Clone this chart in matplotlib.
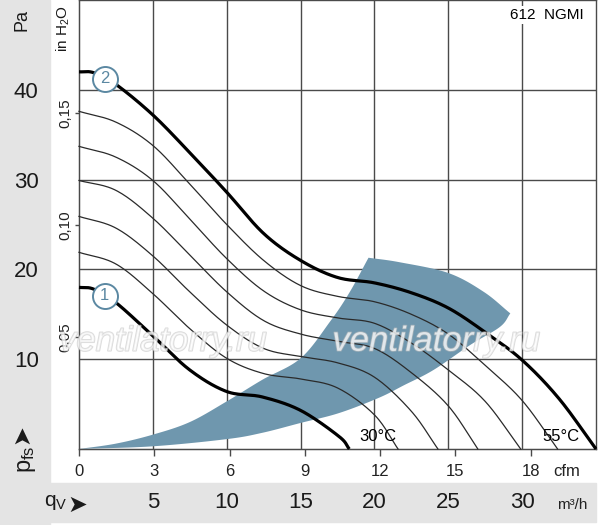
import numpy as np
import matplotlib
matplotlib.use("Agg")
import matplotlib.pyplot as plt
from matplotlib.patches import Rectangle
from matplotlib import patheffects

PA_PER_INH2O = 249.089
M3H_PER_CFM = 1.699

# fan curves: flow in m3/h, static pressure in Pa
curve2_q = [0, 1, 2.5, 5, 7.5, 10, 12.5, 15, 17.5, 20, 22.5, 25, 27.5, 30, 32.5, 35]
curve2_p = [42.0, 41.9, 40.6, 37.2, 33.0, 28.6, 24.0, 21.0, 19.1, 18.5, 17.4, 15.7, 13.0, 9.9, 5.6, 0]

thin_a_q = [0, 2.5, 5, 7.5, 10, 12.5, 15, 17.5, 20, 22.5, 25, 27.5, 30, 32.4]
thin_a_p = [37.6, 36.4, 33.8, 29.5, 25.0, 21.0, 18.2, 17.0, 16.4, 15.0, 12.8, 9.3, 5.4, 0]

thin_b_q = [0, 2.5, 5, 7.5, 10, 12.5, 15, 17.5, 20, 22.5, 25, 27.5, 29.9]
thin_b_p = [33.7, 32.5, 29.9, 25.6, 21.2, 17.6, 15.5, 14.6, 14.0, 11.8, 8.8, 5.3, 0]

thin_c_q = [0, 2.5, 5, 7.5, 10, 12.5, 15, 17.5, 20, 22.5, 25, 27.0]
thin_c_p = [29.9, 28.8, 25.7, 21.6, 17.5, 14.3, 12.8, 12.0, 11.2, 8.5, 4.8, 0]

thin_d_q = [0, 2.5, 5, 7.5, 10, 12.5, 15, 17.5, 20, 22.5, 24.3]
thin_d_p = [25.9, 24.6, 21.5, 17.5, 13.8, 11.2, 10.3, 9.6, 8.0, 4.2, 0]

thin_e_q = [0, 2.5, 5, 7.5, 10, 12.5, 15, 17.5, 20, 21.6]
thin_e_p = [21.9, 20.6, 17.3, 13.4, 10.1, 8.4, 7.8, 6.8, 3.8, 0]

curve1_q = [0, 1, 2.5, 5, 7.5, 10, 12.4, 15, 17.6, 18.3]
curve1_p = [18.0, 17.8, 16.3, 12.6, 8.8, 6.4, 5.8, 4.3, 1.4, 0]

# operating range (shaded area)
range_low_q = [0, 5, 10, 12.4, 15, 17.6, 20.3, 22, 24, 26.5, 28.5, 29.2]
range_low_p = [0, 0.3, 1.1, 1.8, 2.9, 4.0, 5.7, 7.1, 8.8, 11.6, 13.6, 15.1]
range_top_q = [29.2, 27.4, 25, 21.7, 19.6]
range_top_p = [15.1, 17.5, 19.6, 20.8, 21.3]
range_up_q = [19.6, 18.3, 17, 15, 12.4, 10, 7.5, 5, 2.5, 0]
range_up_p = [21.3, 17.4, 14.2, 10.1, 7.7, 5.3, 3.0, 1.6, 0.6, 0]

m3h_ticks = [5, 10, 15, 20, 25, 30]
pa_ticks = [10, 20, 30, 40]
cfm_ticks = [0, 3, 6, 9, 12, 15, 18]
inh2o_ticks = [0.05, 0.10, 0.15]
inh2o_labels = ["0,05", "0,10", "0,15"]

GRAY = "#e4e4e4"
BLUE = "#6f97ae"
GRID = "#4a4a4a"
CIRCLE = "#5b88a2"
INK = "#1a1a1a"

plt.rcParams["font.family"] = ["Liberation Sans", "DejaVu Sans"]
plt.rcParams["mathtext.fontset"] = "custom"
plt.rcParams["mathtext.rm"] = "Liberation Sans"
plt.rcParams["mathtext.it"] = "Liberation Sans"


def smooth(x, y, n=24):
    """Catmull-Rom pass through the read points, only to draw them round."""
    pts = np.column_stack([x, y]).astype(float)
    ext = np.vstack([2 * pts[0] - pts[1], pts, 2 * pts[-1] - pts[-2]])
    t = np.linspace(0, 1, n, endpoint=False)[:, None]
    out = []
    for i in range(1, len(ext) - 2):
        p0, p1, p2, p3 = ext[i - 1], ext[i], ext[i + 1], ext[i + 2]
        out.append(0.5 * (2 * p1 + (-p0 + p2) * t
                          + (2 * p0 - 5 * p1 + 4 * p2 - p3) * t ** 2
                          + (-p0 + 3 * p1 - 3 * p2 + p3) * t ** 3))
    out.append(pts[-1:])
    s = np.vstack(out)
    return s[:, 0], s[:, 1]


fig = plt.figure(figsize=(6, 5.25), dpi=100)
W, H = 600.0, 525.0

# grey frame strips
fig.add_artist(Rectangle((0, 0), 50 / W, 1, transform=fig.transFigure,
                         color=GRAY, zorder=0))
fig.add_artist(Rectangle((0, 3 / H), 596 / W, 39 / H, transform=fig.transFigure,
                         color=GRAY, zorder=0))

ax = fig.add_axes([79 / W, 1 - 449 / H, 517 / W, 449 / H])
ax.set_xlim(0, 35)
ax.set_ylim(0, 50)

for s in ax.spines.values():
    s.set_color(GRID)
    s.set_linewidth(1.0)

ax.set_xticks(m3h_ticks)
ax.set_yticks(pa_ticks)
ax.grid(True, color=GRID, linewidth=1.0)
ax.tick_params(axis="x", length=0, pad=31, labelsize=16, labelcolor=INK)
ax.tick_params(axis="y", length=0, pad=29, labelsize=16, labelcolor=INK)

# operating range
lq, lp = smooth(range_low_q, range_low_p)
tq, tp = smooth(range_top_q, range_top_p)
uq, up = smooth(range_up_q, range_up_p)
ax.fill(np.concatenate([lq, tq, uq]), np.concatenate([lp, tp, up]),
        color=BLUE, lw=0, zorder=2)

# characteristic curves
for q, p in [(thin_a_q, thin_a_p), (thin_b_q, thin_b_p), (thin_c_q, thin_c_p),
             (thin_d_q, thin_d_p), (thin_e_q, thin_e_p)]:
    sq, sp = smooth(q, p)
    ax.plot(sq, sp, color="#2a2a2a", lw=0.9, zorder=3, clip_on=False)
for q, p in [(curve1_q, curve1_p), (curve2_q, curve2_p)]:
    sq, sp = smooth(q, p)
    ax.plot(sq, sp, color="black", lw=2.3, zorder=4, clip_on=False,
            solid_capstyle="butt")

# numbered circles on the two thick curves
for num, q, p in [("1", curve1_q, curve1_p), ("2", curve2_q, curve2_p)]:
    yq = np.interp(1.75, q, p)
    ax.plot(1.75, yq, "o", ms=18, mfc="white", mec=CIRCLE, mew=1.4, zorder=5)
    ax.text(1.75, yq, num, color=CIRCLE, fontsize=12, ha="center",
            va="center", zorder=6)

ax.text(20.2, 0.6, "30°C", fontsize=12, ha="center", va="bottom", zorder=6)
ax.text(32.6, 0.6, "55°C", fontsize=12, ha="center", va="bottom", zorder=6)
ax.text(31.7, 48.3, "612  NGMI", fontsize=11, ha="center", va="center", zorder=6,
        bbox=dict(facecolor="white", edgecolor="none", pad=1.5))

# watermark
for xc in [5.7, 24.2]:
    ax.text(xc, 12.0, "ventilatorry.ru", fontsize=25, style="italic",
            ha="center", va="center", color="white", alpha=0.55, zorder=7,
            path_effects=[patheffects.withStroke(linewidth=1.2, foreground="#bdbdbd")])

# cfm axis below the plot
sec_x = ax.secondary_xaxis("bottom", functions=(lambda v: v / M3H_PER_CFM,
                                                lambda v: v * M3H_PER_CFM))
sec_x.set_xticks(cfm_ticks)
sec_x.tick_params(length=5, width=1, color=GRID, pad=6, labelsize=12,
                  labelcolor="#222222")
sec_x.spines["bottom"].set_color(GRID)

# in H2O axis at the left
sec_y = ax.secondary_yaxis("left", functions=(lambda v: v / PA_PER_INH2O,
                                              lambda v: v * PA_PER_INH2O))
sec_y.set_yticks(inh2o_ticks)
sec_y.set_yticklabels(inh2o_labels, rotation=90, va="center")
sec_y.tick_params(length=3, width=1, color=GRID, pad=2, labelsize=11,
                  labelcolor="#222222")
sec_y.spines["left"].set_color(GRID)

# axis captions
fig.text(22 / W, 1 - 20 / H, "Pa", rotation=90, fontsize=13,
         ha="center", va="center", color=INK)
fig.text(63 / W, 1 - 29 / H, "in H$_2$O", rotation=90, fontsize=11,
         ha="center", va="center", color=INK)
fig.text(27 / W, 1 - 459 / H, "p$_{\\mathrm{fs}}$", rotation=90, fontsize=17,
         ha="center", va="center", color=INK)
fig.text(21 / W, 1 - 434 / H, "➤", rotation=90, fontsize=17,
         family=["DejaVu Sans"], ha="center", va="center", color=INK)
fig.text(56 / W, 1 - 503 / H, "q$_\\mathrm{V}$", fontsize=15,
         ha="center", va="center", color=INK)
fig.text(77 / W, 1 - 505 / H, "➤", fontsize=17, family=["DejaVu Sans"],
         ha="center", va="center", color=INK)
fig.text(567 / W, 1 - 472 / H, "cfm", fontsize=12, ha="center", va="center",
         color="#222222")
fig.text(572 / W, 1 - 505 / H, "m³/h", fontsize=11, ha="center", va="center",
         color="#222222")

fig.savefig("out.png", dpi=100)
